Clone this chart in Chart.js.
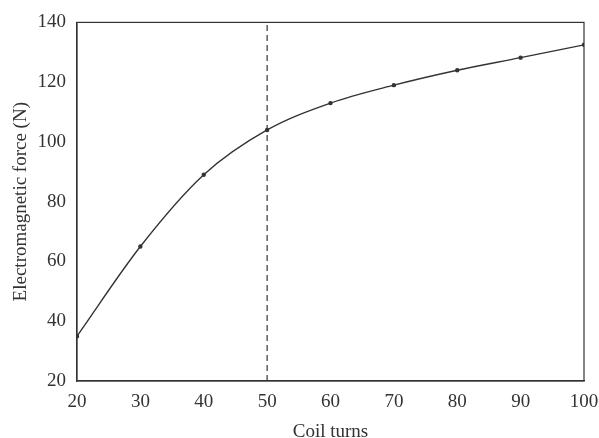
<!DOCTYPE html>
<html>
<head>
<meta charset="utf-8">
<script src="https://cdn.jsdelivr.net/npm/chart.js@4.4.0/dist/chart.umd.min.js"></script>
<style>
    body { margin: 0; background: #fff; }
</style>
</head>
<body>
<canvas id="myChart" width="599" height="438"></canvas>
<script>
const turns = [20, 30, 40, 50, 60, 70, 80, 90, 100];
const force = [35, 65, 89, 104, 113, 119, 124, 128.2, 132.5];
const markerTurns = 50;
const yMin = 20;
const yMax = 140;

const ink = '#333333';
const serif = "'Liberation Serif', 'DejaVu Serif', serif";

const points = [];
for (let i = 0; i < turns.length; i++) {
    points.push({ x: turns[i], y: force[i] });
}

// box around the whole plot area (Chart.js only draws the axis sides)
const frame = {
    id: 'frame',
    afterDraw(chart) {
        const a = chart.chartArea;
        const c = chart.ctx;
        c.save();
        c.strokeStyle = ink;
        c.lineWidth = 1.2;
        c.strokeRect(a.left, a.top, a.right - a.left, a.bottom - a.top);
        c.restore();
    }
};

var ctx = document.getElementById('myChart').getContext('2d');

var myChart = new Chart(ctx, { // eslint-disable-line
    type: 'line',
    data: {
        datasets: [
            {
                data: points,
                borderColor: ink,
                backgroundColor: ink,
                borderWidth: 1.4,
                pointRadius: 1.5,
                cubicInterpolationMode: 'monotone'
            },
            {
                data: [{ x: markerTurns, y: yMin }, { x: markerTurns, y: yMax }],
                borderColor: ink,
                borderWidth: 1.2,
                borderDash: [6, 4],
                pointRadius: 0
            }
        ]
    },
    plugins: [frame],
    options: {
        responsive: false,
        animation: false,
        layout: { padding: { top: 12, right: 0, left: 10, bottom: 0 } },
        plugins: {
            legend: { display: false },
            tooltip: { enabled: false }
        },
        scales: {
            x: {
                type: 'linear',
                min: 20,
                max: 100,
                ticks: { stepSize: 10, color: ink, font: { family: serif, size: 19 }, padding: 10 },
                grid: { display: false, drawTicks: false },
                border: { color: ink, width: 1.2 },
                title: { display: true, text: 'Coil turns', color: ink, font: { family: serif, size: 19, lineHeight: 0.6 }, padding: { top: 8, bottom: 0 } },
                afterFit(scale) {
                    scale.height = 57;
                    scale.paddingRight = 15;
                }
            },
            y: {
                min: yMin,
                max: yMax,
                ticks: { stepSize: 20, color: ink, font: { family: serif, size: 19 }, padding: 11 },
                grid: { display: false, drawTicks: false },
                border: { color: ink, width: 1.2 },
                title: { display: true, text: 'Electromagnetic force (N)', color: ink, font: { family: serif, size: 19 }, padding: { top: 0, bottom: 6 } },
                afterFit(scale) {
                    scale.width = 67;
                }
            }
        }
    }
});
</script>
</body>
</html>
